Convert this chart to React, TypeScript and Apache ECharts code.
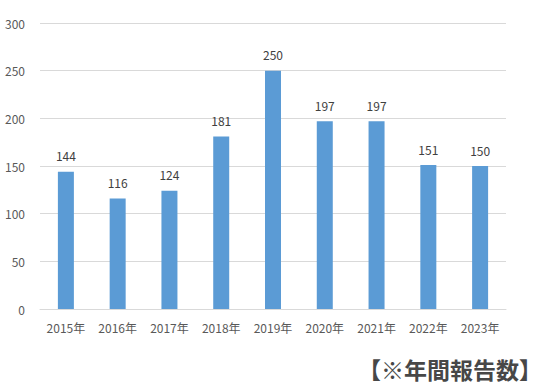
import React, { useEffect, useRef } from "react";
import * as echarts from "echarts";

const categories = ["2015年", "2016年", "2017年", "2018年", "2019年", "2020年", "2021年", "2022年", "2023年"];
const values = [144, 116, 124, 181, 250, 197, 197, 151, 150];
const yTicks = { min: 0, max: 300, interval: 50 };
const note = "【※年間報告数】";

export default function App() {
  const ref = useRef<HTMLDivElement>(null);
  useEffect(() => {
    if (!ref.current) return;
    const chart = echarts.init(ref.current, undefined, { renderer: "svg" });
    const font = "'Noto Sans CJK JP', 'Noto Sans', sans-serif";
    chart.setOption({
      animation: false,
      grid: { left: 40, right: 37, top: 23, bottom: 82, containLabel: false },
      xAxis: {
        type: "category",
        data: categories,
        axisLine: { lineStyle: { color: "#d9d9d9" } },
        axisTick: { show: false },
        axisLabel: { color: "#595959", fontSize: 12, margin: 12, fontFamily: font },
      },
      yAxis: {
        type: "value",
        min: yTicks.min,
        max: yTicks.max,
        interval: yTicks.interval,
        axisLine: { show: false },
        axisTick: { show: false },
        axisLabel: { color: "#595959", fontSize: 12, margin: 15, fontFamily: font },
        splitLine: { lineStyle: { color: "#d9d9d9" } },
      },
      series: [
        {
          type: "bar",
          data: values,
          barWidth: 16,
          itemStyle: { color: "#5b9bd5" },
          label: {
            show: true,
            position: "top",
            distance: 10,
            color: "#404040",
            fontSize: 12,
            fontFamily: font,
          },
        },
      ],
      graphic: [
        {
          type: "text",
          right: 1,
          top: 357,
          style: {
            text: note,
            fontSize: 23,
            fontWeight: "bold",
            fill: "#474747",
            fontFamily: font,
          },
        },
      ],
    });
    return () => chart.dispose();
  }, []);
  return <div ref={ref} style={{ width: 543, height: 391, position: "absolute", left: 0, top: 0 }} />;
}
